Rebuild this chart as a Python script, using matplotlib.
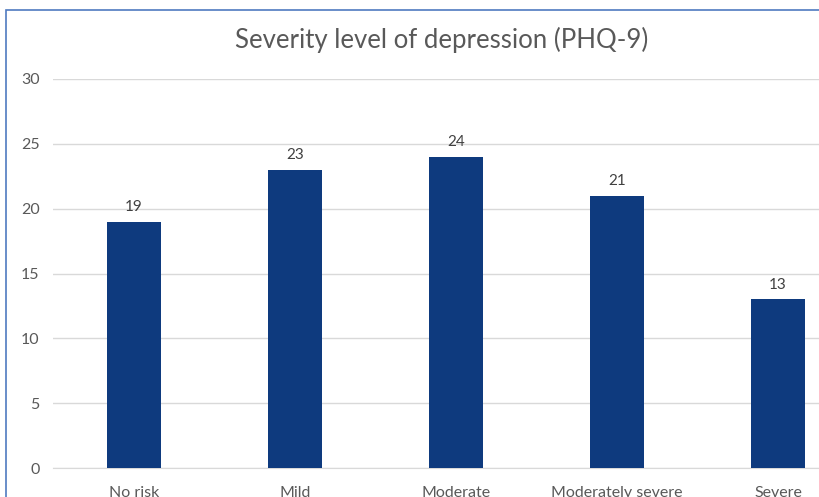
import matplotlib.pyplot as plt
from matplotlib.patches import Rectangle

categories = ['No risk', 'Mild', 'Moderate', 'Moderately severe', 'Severe']
counts = [19, 23, 24, 21, 13]
yticks = [0, 5, 10, 15, 20, 25, 30]

plt.rcParams['font.family'] = ['Lato', 'DejaVu Sans']

fig = plt.figure(figsize=(8.2, 4.97), dpi=100)

# chart frame (excel style), runs off the right and bottom edge
fig.add_artist(Rectangle((6 / 820, -0.1), 1.2, 1 - 10 / 497 + 0.1,
                         transform=fig.transFigure, fill=False,
                         edgecolor='#4F7AC0', linewidth=1.2))

# axes is wider than the figure, last category is cut off like the reference
ax = fig.add_axes([53.5 / 820, 29 / 497, 805 / 820, 389 / 497])
x = range(len(categories))
bars = ax.bar(x, counts, width=0.33, color='#0E3A7E', zorder=3)

ax.set_xlim(-0.5, len(categories) - 0.5)
ax.set_ylim(0, 30)
ax.set_yticks(yticks)
ax.set_xticks(list(x))
ax.set_xticklabels(categories)
ax.grid(axis='y', color='#D9D9D9', linewidth=1, zorder=0)
for s in ['top', 'right', 'left']:
    ax.spines[s].set_visible(False)
ax.spines['bottom'].set_color('#D9D9D9')
ax.tick_params(axis='both', length=0, labelsize=11.5, colors='#595959')
ax.tick_params(axis='y', pad=10)
ax.tick_params(axis='x', pad=13)

for b, v in zip(bars, counts):
    ax.text(b.get_x() + b.get_width() / 2, v + 0.6, str(v), ha='center',
            va='bottom', fontsize=11, color='#404040')

fig.text(442 / 820, 1 - 40 / 497, 'Severity level of depression (PHQ-9)',
         ha='center', va='center', fontsize=18.5, color='#595959')

fig.savefig('out.png', dpi=100)
